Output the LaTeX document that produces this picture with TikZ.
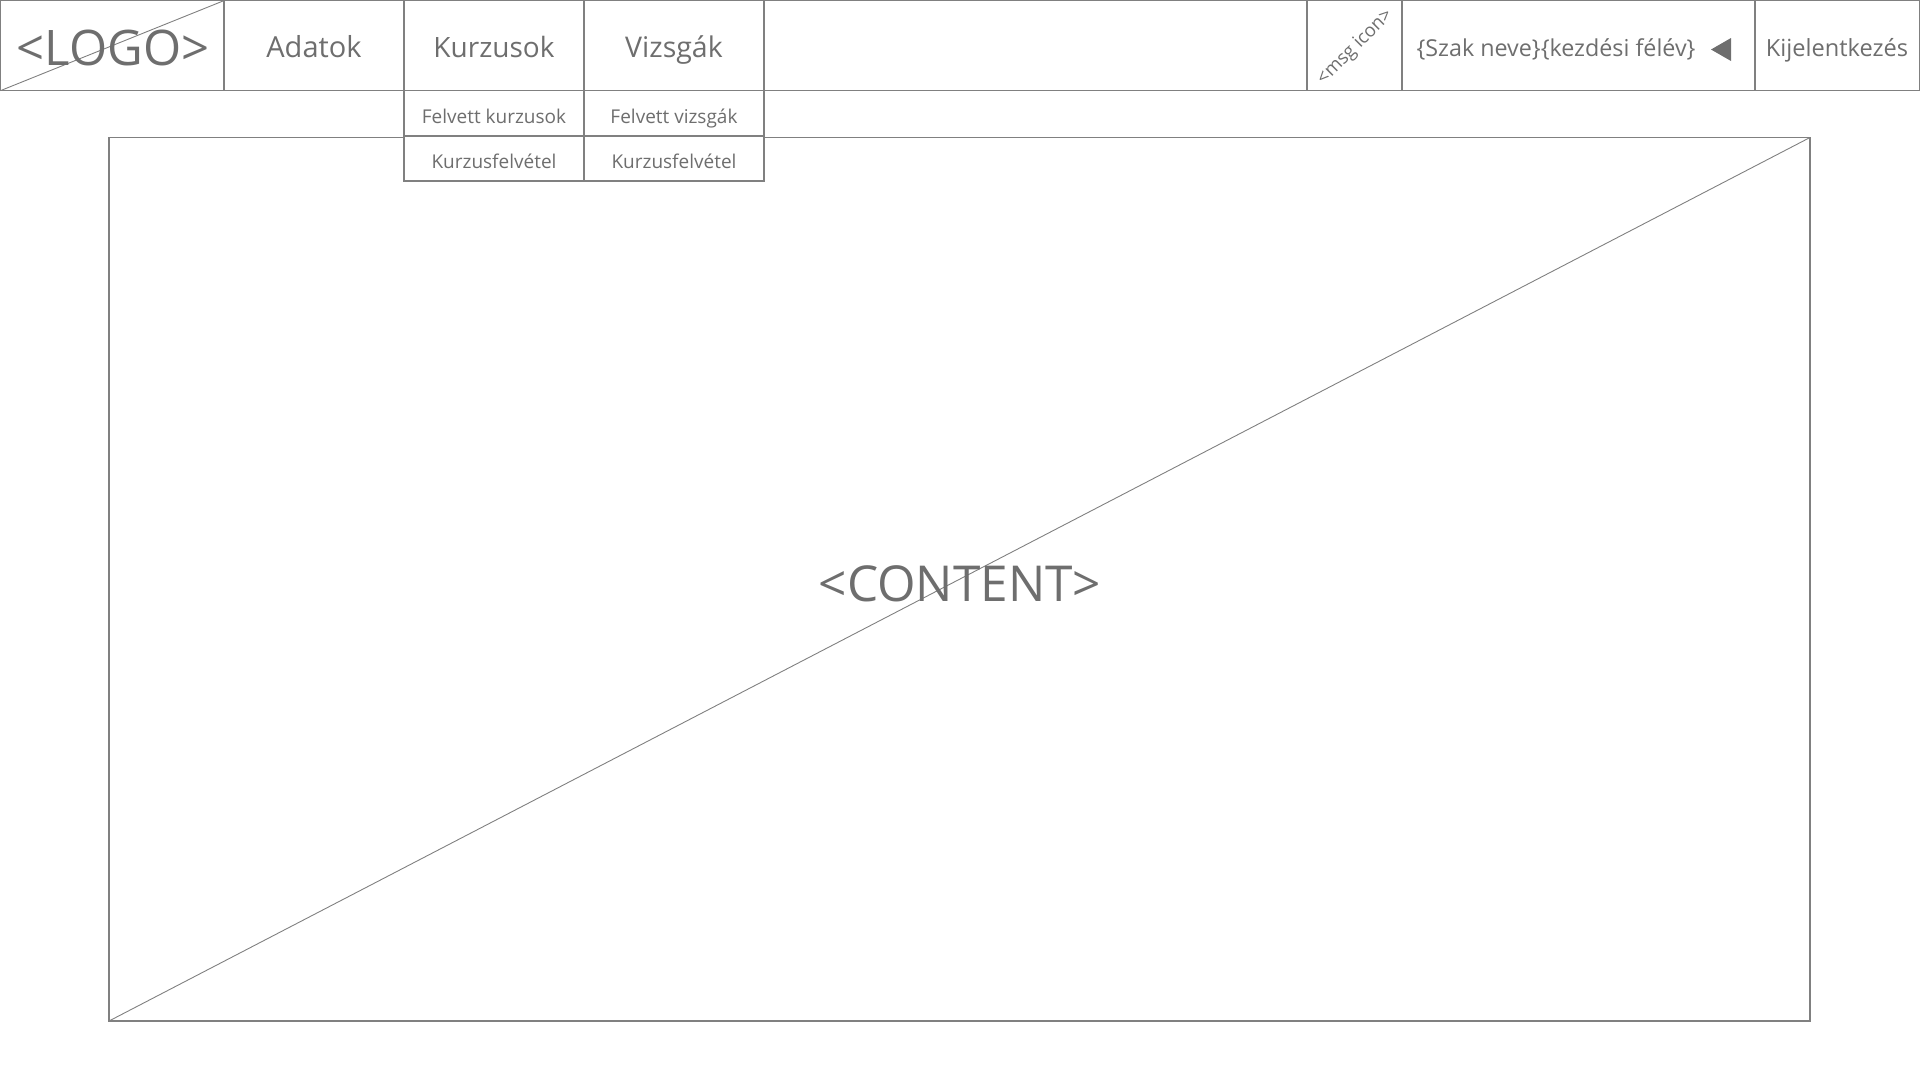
\documentclass[tikz,border=0pt]{standalone}
\usepackage{fontspec}
\setmainfont{Open Sans}
\definecolor{linegray}{HTML}{808080}
\definecolor{txtgray}{HTML}{6E6E6E}
\tikzset{
  wire/.style={draw=linegray, line width=1.2pt},
  thin wire/.style={draw=linegray, line width=0.9pt},
  lbl/.style={text=txtgray, inner sep=0pt, anchor=base},
  menuitem/.style={draw=linegray, line width=1.2pt, fill=white},
}
\begin{document}
\begin{tikzpicture}[x=1pt,y=-1pt]
\useasboundingbox (0,0) rectangle (1920,1080);
% content area
\draw[wire] (109,137.5) rectangle (1810,1021);
\coordinate (cBL) at (109,1021);
\coordinate (cTR) at (1810,137.5);
\draw[thin wire] (cBL) -- (cTR);
% header
\draw[wire] (0.6,0.6) rectangle (1919.4,90.6);
\foreach \xx in {224,404,584,764,1307,1402,1755}
  \draw[wire] (\xx,0.6) -- (\xx,90.6);
\coordinate (logoBL) at (0.6,90.6);
\coordinate (logoTR) at (224,0.6);
\draw[thin wire] (logoBL) -- (logoTR);
% dropdowns
\draw[menuitem] (404,90.6) rectangle (584,136);
\draw[menuitem] (404,136) rectangle (584,181);
\draw[menuitem] (584,90.6) rectangle (764,136);
\draw[menuitem] (584,136) rectangle (764,181);
% texts
\node[lbl, font=\fontsize{49}{54}\selectfont] (logo) at (113,65) {<LOGO>};
\node[lbl, font=\fontsize{29}{32}\selectfont] (adatok) at (314,57.3) {Adatok};
\node[lbl, font=\fontsize{28}{32}\selectfont] (kurz) at (494,57.3) {Kurzusok};
\node[lbl, font=\fontsize{28.5}{32}\selectfont] (vizs) at (674,57.3) {Vizsgák};
\node[lbl, font=\fontsize{19}{22}\selectfont] (fk) at (494,123.3) {Felvett kurzusok};
\node[lbl, font=\fontsize{19}{22}\selectfont] (kf1) at (494,168) {Kurzusfelvétel};
\node[lbl, font=\fontsize{19}{22}\selectfont] (fv) at (674,123.3) {Felvett vizsgák};
\node[lbl, font=\fontsize{19}{22}\selectfont] (kf2) at (674,168) {Kurzusfelvétel};
\node[text=txtgray, inner sep=0pt, anchor=center, text height=0.72em, text depth=0pt,
      font=\fontsize{18.5}{22}\selectfont, rotate=45] (msg) at (1356,48) {<msg icon>};
\node[lbl, font=\fontsize{23.3}{28}\selectfont] (szak) at (1556,56.5) {\{Szak neve\}\{kezdési félév\}};
\fill[txtgray] (1711,49.5) -- (1731,38) -- (1731,61) -- cycle;
\node[lbl, font=\fontsize{23.6}{28}\selectfont] (kij) at (1837,56.5) {Kijelentkezés};
\node[lbl, font=\fontsize{49.5}{54}\selectfont] (content) at (960,601) {<CONTENT>};
\end{tikzpicture}
\end{document}
